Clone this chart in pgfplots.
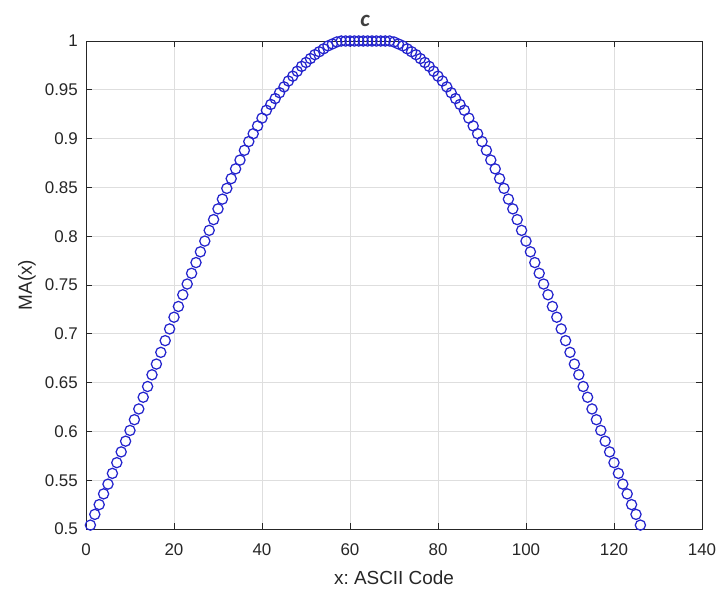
\documentclass[border=0pt]{standalone}
\usepackage{fontspec}
\setmainfont{Liberation Sans}
\newfontfamily\titlefont{Carlito}
\usepackage{pgfplots}
\pgfplotsset{compat=1.18}
\frenchspacing

\definecolor{markblue}{RGB}{36,36,205}
\definecolor{axisgray}{RGB}{38,38,38}
\definecolor{gridgray}{RGB}{222,222,222}
\definecolor{titlegray}{RGB}{64,64,64}

\begin{document}
\begin{tikzpicture}
\path[use as bounding box] (0,0) rectangle (718bp,-589bp);
\begin{axis}[
  at={(86bp,-529bp)}, anchor=south west,
  width=616bp, height=488bp, scale only axis,
  xmin=0, xmax=140, ymin=0.5, ymax=1,
  xtick={0,20,...,140},
  ytick={0.5,0.55,0.6,0.65,0.7,0.75,0.8,0.85,0.9,0.95,1},
  yticklabels={0.5,0.55,0.6,0.65,0.7,0.75,0.8,0.85,0.9,0.95,1},
  /pgf/number format/assume math mode=true,
  grid=major,
  major grid style={gridgray, line width=0.8bp},
  axis line style={axisgray, line width=0.9bp},
  major tick length=6bp,
  tick style={axisgray, line width=0.9bp},
  tick align=inside,
  xtick pos=both, ytick pos=both,
  tick label style={font=\fontsize{17}{20}\selectfont, text=axisgray},
  xticklabel style={inner sep=0pt, anchor=north, yshift=-14bp},
  yticklabel style={inner sep=0pt, anchor=east, xshift=-8bp},
  label style={font=\fontsize{19}{22}\selectfont, text=axisgray},
  xlabel={x: ASCII Code},
  xlabel style={at={(axis description cs:0.5,-0.1137)}, anchor=base, inner sep=0pt},
  ylabel={MA(x)},
  ylabel style={at={(axis description cs:-0.0958,0.5)}, anchor=center, inner sep=0pt},
  clip=false,
]
\addplot[only marks, mark=o, mark size=5.1bp, markblue,
  mark options={line width=1.25bp}] table {
x y
1 0.504
2 0.515
3 0.525
4 0.536
5 0.546
6 0.557
7 0.568
8 0.579
9 0.590
10 0.601
11 0.612
12 0.623
13 0.635
14 0.646
15 0.658
16 0.669
17 0.681
18 0.693
19 0.705
20 0.717
21 0.728
22 0.740
23 0.751
24 0.762
25 0.773
26 0.784
27 0.795
28 0.806
29 0.817
30 0.828
31 0.838
32 0.849
33 0.859
34 0.869
35 0.878
36 0.888
37 0.897
38 0.905
39 0.913
40 0.921
41 0.929
42 0.935
43 0.941
44 0.947
45 0.953
46 0.959
47 0.964
48 0.969
49 0.974
50 0.978
51 0.982
52 0.986
53 0.989
54 0.992
55 0.995
56 0.997
57 0.999
58 1.000
59 1.000
60 1.000
61 1.000
62 1.000
63 1.000
64 1.000
65 1.000
66 1.000
67 1.000
68 1.000
69 1.000
70 0.999
71 0.997
72 0.995
73 0.992
74 0.989
75 0.986
76 0.982
77 0.978
78 0.974
79 0.969
80 0.964
81 0.959
82 0.953
83 0.947
84 0.941
85 0.935
86 0.929
87 0.921
88 0.913
89 0.905
90 0.897
91 0.888
92 0.878
93 0.869
94 0.859
95 0.849
96 0.838
97 0.828
98 0.817
99 0.806
100 0.795
101 0.784
102 0.773
103 0.762
104 0.751
105 0.740
106 0.728
107 0.717
108 0.705
109 0.693
110 0.681
111 0.669
112 0.658
113 0.646
114 0.635
115 0.623
116 0.612
117 0.601
118 0.590
119 0.579
120 0.568
121 0.557
122 0.546
123 0.536
124 0.525
125 0.515
126 0.504
};
\node[anchor=center, inner sep=0pt, text=titlegray,
  font=\titlefont\bfseries\itshape\fontsize{23}{26}\selectfont]
  at (axis description cs:0.4529,1.042) {c};
\end{axis}
\end{tikzpicture}
\end{document}
